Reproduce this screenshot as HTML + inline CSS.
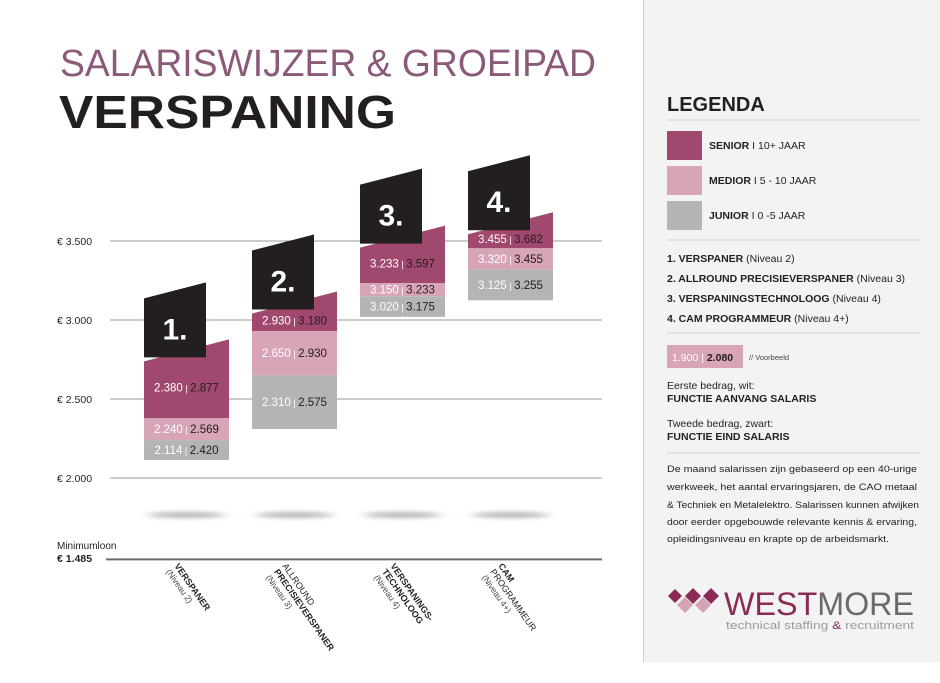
<!DOCTYPE html>
<html><head><meta charset="utf-8"><style>
html,body{margin:0;padding:0;background:#fff;}
svg{display:block;font-family:"Liberation Sans",sans-serif;}
</style></head><body>
<svg id="chart" width="940" height="683" viewBox="0 0 940 683">
  <rect x="643" y="0" width="297" height="662" fill="#f3f3f3"/>
  <line x1="643.5" y1="0" x2="643.5" y2="662" stroke="#cfcfcf"/>
  <text x="60" y="76" font-size="38" fill="#8b5a7a" textLength="536" lengthAdjust="spacingAndGlyphs">SALARISWIJZER &amp; GROEIPAD</text>
  <text x="59" y="128" font-size="46" font-weight="bold" fill="#231f20" textLength="337" lengthAdjust="spacingAndGlyphs">VERSPANING</text>
  <g id="grid"></g>
  <g id="shadows"></g>
  <g id="bars"></g>
  <g id="xlabels"></g>

  <g>
    <text x="667" y="111" font-size="20" font-weight="bold" fill="#231f20">LEGENDA</text>
    <line x1="667" y1="120" x2="920" y2="120" stroke="#d0d0d0"/>
    <rect x="667" y="131" width="35" height="29" fill="#a0486e"/>
    <text x="709" y="149" font-size="10.5" fill="#231f20"><tspan font-weight="bold">SENIOR</tspan> I 10+ JAAR</text>
    <rect x="667" y="166" width="35" height="29" fill="#d8a5b8"/>
    <text x="709" y="184" font-size="10.5" fill="#231f20"><tspan font-weight="bold">MEDIOR</tspan> I 5 - 10 JAAR</text>
    <rect x="667" y="201" width="35" height="29" fill="#b4b4b4"/>
    <text x="709" y="219" font-size="10.5" fill="#231f20"><tspan font-weight="bold">JUNIOR</tspan> I 0 -5 JAAR</text>
    <line x1="667" y1="240" x2="920" y2="240" stroke="#d0d0d0"/>
    <g font-size="10.5" fill="#231f20">
      <text x="667" y="262"><tspan font-weight="bold">1.  VERSPANER</tspan>  (Niveau 2)</text>
      <text x="667" y="282"><tspan font-weight="bold">2.  ALLROUND PRECISIEVERSPANER</tspan> (Niveau 3)</text>
      <text x="667" y="302"><tspan font-weight="bold">3.  VERSPANINGSTECHNOLOOG</tspan> (Niveau 4)</text>
      <text x="667" y="322"><tspan font-weight="bold">4.  CAM PROGRAMMEUR</tspan> (Niveau 4+)</text>
    </g>
    <line x1="667" y1="333" x2="920" y2="333" stroke="#d0d0d0"/>
    <rect x="667" y="345" width="76" height="23" fill="#d8a5b8"/>
    <text x="672" y="361" font-size="10.5"><tspan fill="#fff">1.900</tspan><tspan fill="#fff"> | </tspan><tspan fill="#231f20" font-weight="bold">2.080</tspan></text>
    <text x="749" y="360" font-size="7.5" fill="#444">// Voorbeeld</text>
    <text x="667" y="389" font-size="10.5" fill="#231f20">Eerste bedrag, wit:</text>
    <text x="667" y="402" font-size="10.5" font-weight="bold" fill="#231f20">FUNCTIE AANVANG SALARIS</text>
    <text x="667" y="427" font-size="10.5" fill="#231f20">Tweede bedrag, zwart:</text>
    <text x="667" y="440" font-size="10.5" font-weight="bold" fill="#231f20">FUNCTIE EIND SALARIS</text>
    <line x1="667" y1="453" x2="920" y2="453" stroke="#d0d0d0"/>
    <g font-size="9" fill="#231f20">
      <text x="667" y="472" textLength="250" lengthAdjust="spacingAndGlyphs">De maand salarissen zijn gebaseerd op een 40-urige</text>
      <text x="667" y="490" textLength="250" lengthAdjust="spacingAndGlyphs">werkweek, het aantal ervaringsjaren, de CAO metaal</text>
      <text x="667" y="508" textLength="252" lengthAdjust="spacingAndGlyphs">&amp; Techniek en Metalelektro. Salarissen kunnen afwijken</text>
      <text x="667" y="525" textLength="250" lengthAdjust="spacingAndGlyphs">door eerder opgebouwde relevante kennis &amp; ervaring,</text>
      <text x="667" y="542" textLength="222" lengthAdjust="spacingAndGlyphs">opleidingsniveau en krapte op de arbeidsmarkt.</text>
    </g>
  </g>
  <g>
    <polygon points="677,605 685,597 693,605 685,613" fill="#d4a3b5"/>
    <polygon points="695,605 703,597 711,605 703,613" fill="#d4a3b5"/>
    <polygon points="668,596 675,589 682,596 675,603" fill="#8a2a55"/>
    <polygon points="685,596 693,588 701,596 693,604" fill="#8a2a55"/>
    <polygon points="703,596 711,588 719,596 711,604" fill="#8a2a55"/>
    <text x="724" y="615" font-size="32" textLength="190" lengthAdjust="spacingAndGlyphs"><tspan fill="#8a2a55">WEST</tspan><tspan fill="#6a6a6a">MORE</tspan></text>
    <text x="726" y="629" font-size="11" fill="#9a9a9a" textLength="188" lengthAdjust="spacingAndGlyphs">technical staffing <tspan fill="#8a2a55">&amp;</tspan> recruitment</text>
  </g>
</svg>
<script>
const categories = ["1.", "2.", "3.", "4."];
const juniorStart = [2114, 2310, 3020, 3125];
const juniorEnd = [2420, 2575, 3175, 3255];
const mediorStart = [2240, 2650, 3150, 3320];
const mediorEnd = [2569, 2930, 3233, 3455];
const seniorStart = [2380, 2930, 3233, 3455];
const seniorEnd = [2877, 3180, 3597, 3682];
const yTicks = [2000, 2500, 3000, 3500];
const yTickLabels = ["€ 2.000", "€ 2.500", "€ 3.000", "€ 3.500"];
const minWage = 1485;
const xNames = [["VERSPANER"], ["ALLROUND", "PRECISIEVERSPANER"], ["VERSPANINGS-", "TECHNOLOOG"], ["CAM", "PROGRAMMEUR"]];
const xBold = [[true], [false, true], [true, true], [true, false]];
const xLevels = ["(Niveau 2)", "(Niveau 3)", "(Niveau 4)", "(Niveau 4+)"];

const NS = "http://www.w3.org/2000/svg";
function y(v) { return 478 - (v - 2000) * 0.158; }
function x(i) { return 144 + i * 108; }
const BW = 85, BLK = 62;
function mk(tag, attrs, parent) {
  const e = document.createElementNS(NS, tag);
  for (const k in attrs) e.setAttribute(k, attrs[k]);
  parent.appendChild(e);
  return e;
}
function fmt(v) { const s = String(v); return s.slice(0, s.length - 3) + "." + s.slice(-3); }

const grid = document.getElementById("grid");
yTicks.forEach((t, i) => {
  const l = mk("line", { x1: 110, x2: 602, y1: y(t), y2: y(t), stroke: "#9a9a9a", "stroke-width": 1 }, grid);
  
  
  const tx = mk("text", { x: 57, y: y(t) + 4, "font-size": 10.5, fill: "#231f20" }, grid);
  tx.textContent = yTickLabels[i];
  
  
});
const ml = mk("line", { x1: 106, x2: 602, y1: y(minWage), y2: y(minWage), stroke: "#6e6e6e", "stroke-width": 2 }, grid);


const mt1 = mk("text", { x: 57, y: 549, "font-size": 10, fill: "#231f20" }, grid);
mt1.textContent = "Minimumloon";


const mt2 = mk("text", { x: 57, y: 562, "font-size": 10.5, "font-weight": "bold", fill: "#231f20" }, grid);
mt2.textContent = "€ " + fmt(minWage);



const defs = mk("defs", {}, document.getElementById("chart"));
const f = mk("filter", { id: "blur", x: "-50%", y: "-200%", width: "200%", height: "500%" }, defs);
mk("feGaussianBlur", { stdDeviation: "6 2" }, f);
const sh = document.getElementById("shadows");
const bars = document.getElementById("bars");

function segLabel(g, cx, cy, a, b, name) {
  const t = mk("text", { x: cx, y: cy + 4, "font-size": 11.5, "text-anchor": "middle" }, g);
  const s1 = mk("tspan", { fill: "#fff" }, t); s1.textContent = fmt(a);
  const s2 = mk("tspan", { fill: "#fff", "font-size": 9 }, t); s2.textContent = " | ";
  const s3 = mk("tspan", { fill: "#231f20" }, t); s3.textContent = fmt(b);
  
  
}

categories.forEach((c, i) => {
  const x0 = x(i), x1 = x0 + BW, cx = x0 + BW / 2;
  const e = mk("ellipse", { cx: cx, cy: 515, rx: 38, ry: 3, fill: "#9a9a9a", opacity: 0.7, filter: "url(#blur)" }, sh);
  
  
  const g = mk("g", {}, bars);
  
  
  const jr = mk("rect", { x: x0, y: y(mediorStart[i]), width: BW, height: y(juniorStart[i]) - y(mediorStart[i]), fill: "#b4b4b4" }, g);
  
  
  const md = mk("rect", { x: x0, y: y(seniorStart[i]), width: BW, height: y(mediorStart[i]) - y(seniorStart[i]), fill: "#d8a5b8" }, g);
  
  
  const top = y(seniorEnd[i]);
  const sn = mk("polygon", { points: `${x0},${y(seniorStart[i])} ${x1},${y(seniorStart[i])} ${x1},${top} ${x0},${top + 22}`, fill: "#a0486e" }, g);
  
  
  const bb = top + 18;
  const bk = mk("polygon", { points: `${x0},${bb} ${x0 + BLK},${bb} ${x0 + BLK},${bb - 75} ${x0},${bb - 59}`, fill: "#231f20" }, g);
  
  
  const bt = mk("text", { x: x0 + BLK / 2, y: bb - 18, "font-size": 30, "font-weight": "bold", fill: "#fff", "text-anchor": "middle" }, g);
  bt.textContent = c;
  
  
  segLabel(g, cx, (bb + y(seniorStart[i])) / 2, seniorStart[i], seniorEnd[i], 'senior-value-label');
  segLabel(g, cx, (y(seniorStart[i]) + y(mediorStart[i])) / 2, mediorStart[i], mediorEnd[i], 'medior-value-label');
  segLabel(g, cx, (y(mediorStart[i]) + y(juniorStart[i])) / 2, juniorStart[i], juniorEnd[i], 'junior-value-label');

  const xl = document.getElementById("xlabels");
  const lg = mk("g", { transform: `translate(${x0 + 30},${566}) rotate(55)` }, xl);
  
  
  let k = 0;
  xNames[i].forEach((n, j) => {
    const t = mk("text", { x: 0, y: k * 10, "font-size": 9, "font-weight": xBold[i][j] ? "bold" : "normal", fill: "#231f20" }, lg);
    t.textContent = n; k++;
  });
  const lv = mk("text", { x: 0, y: k * 10, "font-size": 8.5, fill: "#444" }, lg);
  lv.textContent = xLevels[i];
});
</script>
</body></html>
